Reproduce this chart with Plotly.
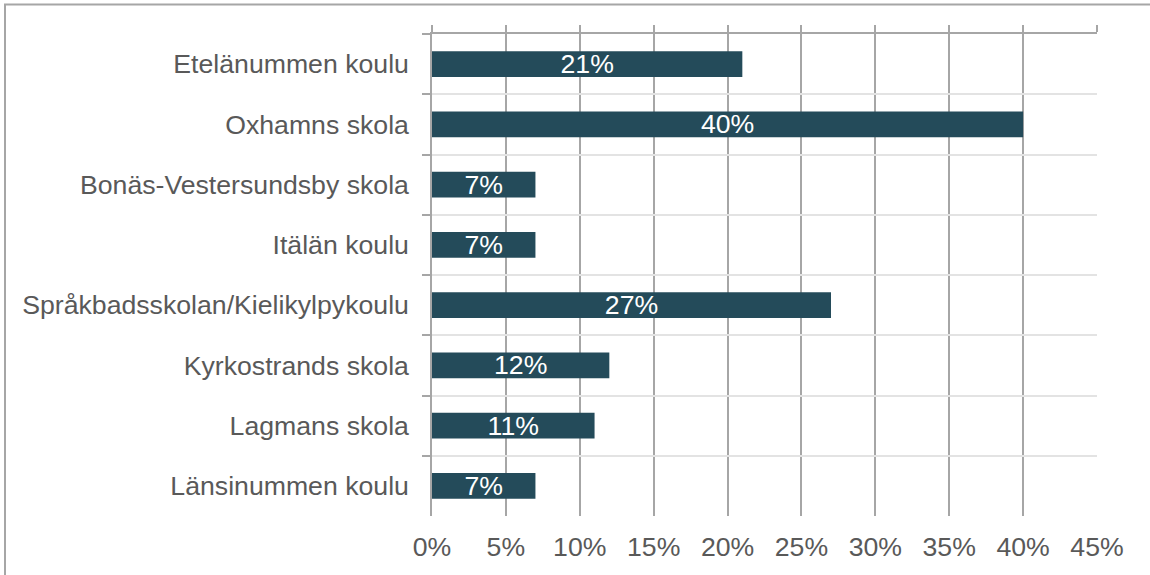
import plotly.graph_objects as go

categories = [
    "Etelänummen koulu",
    "Oxhamns skola",
    "Bonäs-Vestersundsby skola",
    "Itälän koulu",
    "Språkbadsskolan/Kielikylpykoulu",
    "Kyrkostrands skola",
    "Lagmans skola",
    "Länsinummen koulu",
]
values = [0.21, 0.40, 0.07, 0.07, 0.27, 0.12, 0.11, 0.07]
tick_vals = [0, 0.05, 0.10, 0.15, 0.20, 0.25, 0.30, 0.35, 0.40, 0.45]
tick_text = ["0%", "5%", "10%", "15%", "20%", "25%", "30%", "35%", "40%", "45%"]

FONT = "Liberation Sans, Arial, sans-serif"
FS = 26.67
GRID_DARK = "#a6a6a6"
GRID_LIGHT = "#e3e3e3"

fig = go.Figure()
fig.add_trace(go.Bar(
    y=categories, x=values, orientation="h",
    marker=dict(color="#244b5a", line=dict(width=0)),
    text=[f"{round(v*100)}%" for v in values],
    textposition="inside", insidetextanchor="middle",
    textfont=dict(color="white", size=FS, family=FONT),
    hoverinfo="skip",
))
# invisible helper trace so the top axis is drawn
fig.add_trace(go.Scatter(
    x=[0], y=[categories[0]], xaxis="x2", mode="markers",
    marker=dict(opacity=0), hoverinfo="skip", showlegend=False,
))

fig.update_layout(
    width=1150, height=575,
    margin=dict(l=432, r=53, t=34, b=59, autoexpand=False),
    paper_bgcolor="white", plot_bgcolor="white",
    showlegend=False,
    bargap=0.57,
    uniformtext=dict(minsize=FS, mode="show"),
    font=dict(family=FONT, color="#595959", size=FS),
    xaxis=dict(
        range=[0, 0.45], tickvals=tick_vals, ticktext=tick_text,
        showgrid=True, gridcolor=GRID_DARK, gridwidth=1.5,
        zeroline=False, showline=False, ticks="",
        ticklabelstandoff=12,
        tickfont=dict(size=FS, color="#595959", family=FONT),
    ),
    xaxis2=dict(
        overlaying="x", side="top", matches="x",
        range=[0, 0.45], tickvals=tick_vals,
        showticklabels=False, showgrid=False, zeroline=False,
        showline=True, linecolor=GRID_DARK, linewidth=1.5,
        ticks="outside", ticklen=7, tickcolor=GRID_DARK, tickwidth=1.5,
    ),
    yaxis=dict(
        type="category", categoryorder="array", categoryarray=categories,
        autorange="reversed", tickson="boundaries",
        showgrid=True, gridcolor=GRID_LIGHT, gridwidth=2,
        showline=True, linecolor=GRID_DARK, linewidth=1.5,
        ticks="outside", ticklen=8, tickcolor=GRID_DARK, tickwidth=1.5,
        ticklabelstandoff=16,
        tickfont=dict(size=FS, color="#595959", family=FONT),
    ),
    shapes=[
        dict(type="rect", xref="paper", yref="paper",
             x0=(5 - 432) / 665, x1=1.3, y0=-0.3, y1=(516 - 4.5) / 482,
             line=dict(color="#a6a6a6", width=2), fillcolor="rgba(0,0,0,0)",
             layer="below"),
    ],
)

fig.write_html("out.html", config={"displayModeBar": False},
               post_script="document.body.style.margin='0';")
